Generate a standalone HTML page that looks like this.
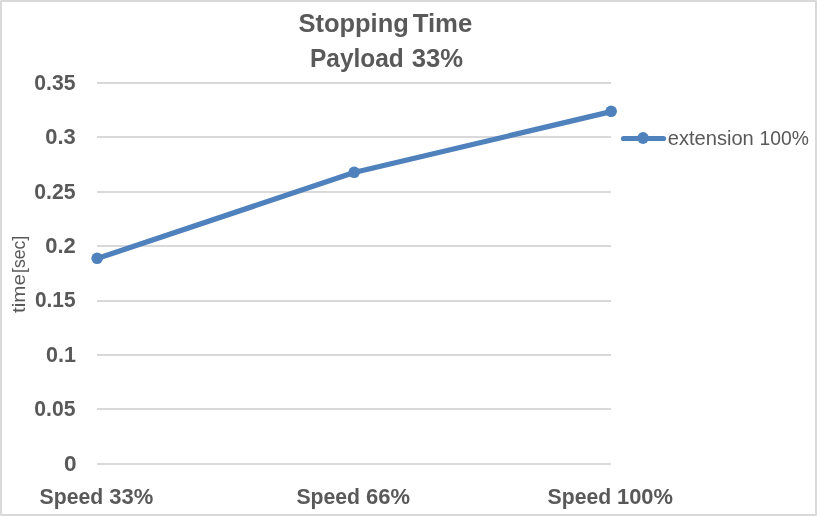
<!DOCTYPE html>
<html>
<head>
<meta charset="utf-8">
<title>Stopping Time Payload 33%</title>
<style>
html,body{margin:0;padding:0;background:#fff;}
body{width:817px;height:516px;overflow:hidden;position:relative;font-family:"Liberation Sans",sans-serif;}
svg{display:block;position:absolute;left:0;top:0;}
text{font-family:"Liberation Sans",sans-serif;fill:#595959;}
.b{font-weight:bold;}
</style>
</head>
<body>
<svg width="817" height="516" viewBox="0 0 817 516">
  <rect x="0" y="0" width="817" height="516" fill="#ffffff"/>
  <rect x="1" y="1" width="815" height="514" fill="none" stroke="#d9d9d9" stroke-width="2"/>
  <g fill="#e9e9e9"><rect x="0" y="0" width="1" height="1"/><rect x="816" y="0" width="1" height="1"/><rect x="0" y="515" width="1" height="1"/><rect x="816" y="515" width="1" height="1"/></g>
  <!-- gridlines -->
  <g fill="#d9d9d9">
    <rect x="97" y="82" width="514" height="2"/>
    <rect x="97" y="136" width="514" height="2"/>
    <rect x="97" y="191" width="514" height="2"/>
    <rect x="97" y="245" width="514" height="2"/>
    <rect x="97" y="300" width="514" height="2"/>
    <rect x="97" y="354" width="514" height="2"/>
    <rect x="97" y="408" width="514" height="2"/>
    <rect x="97" y="463" width="514" height="2"/>
  </g>
  <!-- title -->
  <text class="b" font-size="25" y="31.7"><tspan x="298.5" textLength="110.3" lengthAdjust="spacingAndGlyphs">Stopping</tspan> <tspan x="412.7" textLength="59.6" lengthAdjust="spacingAndGlyphs">Time</tspan></text>
  <text class="b" font-size="25" y="66.8"><tspan x="310" textLength="93.8" lengthAdjust="spacingAndGlyphs">Payload</tspan> <tspan x="411.8" textLength="51.4" lengthAdjust="spacingAndGlyphs">33%</tspan></text>
  <!-- y tick labels -->
  <g class="b" font-size="22.2">
    <text x="34.3" y="89.9" textLength="41.2" lengthAdjust="spacingAndGlyphs">0.35</text>
    <text x="45.25" y="143.9" textLength="30.5" lengthAdjust="spacingAndGlyphs">0.3</text>
    <text x="34.3" y="198.9" textLength="41.2" lengthAdjust="spacingAndGlyphs">0.25</text>
    <text x="45.25" y="252.9" textLength="30.5" lengthAdjust="spacingAndGlyphs">0.2</text>
    <text x="34.9" y="306.9" textLength="40.6" lengthAdjust="spacingAndGlyphs">0.15</text>
    <text x="46" y="361.9" textLength="29.9" lengthAdjust="spacingAndGlyphs">0.1</text>
    <text x="34.3" y="415.9" textLength="41.2" lengthAdjust="spacingAndGlyphs">0.05</text>
    <text x="64" y="470.9" textLength="12.6" lengthAdjust="spacingAndGlyphs">0</text>
  </g>
  <!-- x labels -->
  <g class="b" font-size="21.6">
    <text y="503.5"><tspan x="39.6" textLength="63.6" lengthAdjust="spacingAndGlyphs">Speed</tspan> <tspan x="109.2" textLength="44" lengthAdjust="spacingAndGlyphs">33%</tspan></text>
    <text y="503.5"><tspan x="296.4" textLength="63.6" lengthAdjust="spacingAndGlyphs">Speed</tspan> <tspan x="366.1" textLength="44" lengthAdjust="spacingAndGlyphs">66%</tspan></text>
    <text y="503.5"><tspan x="547.6" textLength="63.6" lengthAdjust="spacingAndGlyphs">Speed</tspan> <tspan x="617" textLength="56" lengthAdjust="spacingAndGlyphs">100%</tspan></text>
  </g>
  <!-- y axis title -->
  <text font-size="18.8" transform="translate(24.7,274.6) rotate(-90)"><tspan x="-38.4" textLength="39" lengthAdjust="spacingAndGlyphs">time</tspan><tspan x="1.6" textLength="37.15" lengthAdjust="spacingAndGlyphs">[sec]</tspan></text>
  <!-- series -->
  <polyline points="97.1,258.55 354.1,172.55 611.1,111.6" fill="none" stroke="#4f81bd" stroke-width="5.25" stroke-linecap="round" stroke-linejoin="round"/>
  <g fill="#4f81bd">
    <circle cx="97.15" cy="258.3" r="5.8"/>
    <circle cx="354.15" cy="172.3" r="5.8"/>
    <circle cx="611.15" cy="111.3" r="5.8"/>
  </g>
  <!-- legend -->
  <line x1="623.5" y1="138.5" x2="663.5" y2="138.5" stroke="#4f81bd" stroke-width="5.2" stroke-linecap="round"/>
  <ellipse cx="643.05" cy="137.95" rx="5.7" ry="6" fill="#4f81bd"/>
  <text font-size="19.4" y="144.7"><tspan x="667.8" textLength="86" lengthAdjust="spacingAndGlyphs">extension</tspan> <tspan x="759.5" textLength="49.4" lengthAdjust="spacingAndGlyphs">100%</tspan></text>
</svg>
</body>
</html>
